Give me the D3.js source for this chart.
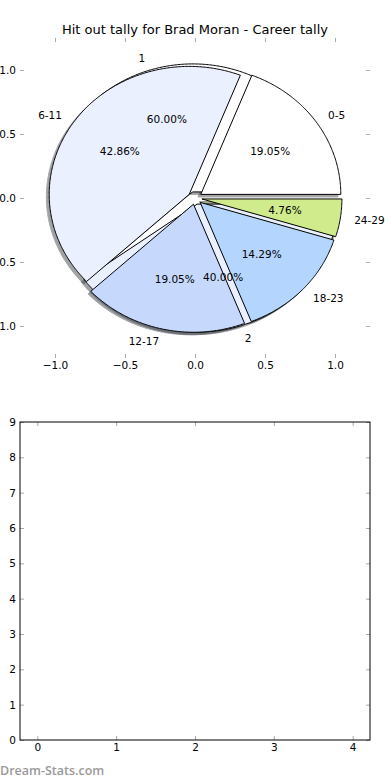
<!DOCTYPE html>
<html>
<head>
<meta charset="utf-8">
<script src="https://cdn.jsdelivr.net/npm/d3@7"></script>
<style>
  body { margin: 0; background: #fff; }
  text { font-family: "DejaVu Sans", sans-serif; fill: #000; }
</style>
</head>
<body>
<svg width="390" height="780"></svg>
<script>
// hit out tally data
var groups = ["0-5", "6-11", "12-17", "18-23", "24-29"],
    groupCounts = [4, 9, 4, 3, 1],
    groupColors = ["#ffffff", "#eaf0fd", "#c6d9fd", "#b4d6fe", "#cfeb8c"];

var rounds = ["1", "2"],
    roundCounts = [3, 2],
    roundColors = ["#ffffff", "#eaf0fd"];

var pieTicks = [-1.0, -0.5, 0.0, 0.5, 1.0],
    emptyXTicks = [0, 1, 2, 3, 4],
    emptyYTicks = [0, 1, 2, 3, 4, 5, 6, 7, 8, 9];

var svg = d3.select("svg");

var explode = 0.05, shadowOff = -0.02;

//scales for the pie axes
var x = d3.scaleLinear().domain([-1.25, 1.25]).range([20, 370]);
var y = d3.scaleLinear().domain([-1.25, 1.25]).range([358, 38]);

var pie = d3.pie().sort(null).startAngle(0).endAngle(2 * Math.PI);

var line = d3.line()
    .x(function(d) { return x(d[0]); })
    .y(function(d) { return y(d[1]); });

function wedge(cx, cy, a0, a1) {
    var pts = [[cx, cy]];
    var n = Math.max(2, Math.ceil((a1 - a0) / 0.01));
    for (var i = 0; i <= n; i++) {
        var a = a0 + (a1 - a0) * i / n;
        pts.push([cx + Math.cos(a), cy + Math.sin(a)]);
    }
    return line(pts) + "Z";
}

function layout(labels, counts, colors) {
    var total = d3.sum(counts);
    return pie(counts).map(function(d, i) {
        var mid = (d.startAngle + d.endAngle) / 2;
        return {
            label: labels[i],
            pct: (100 * counts[i] / total).toFixed(2) + "%",
            color: colors[i],
            a0: d.startAngle, a1: d.endAngle, mid: mid,
            cx: explode * Math.cos(mid), cy: explode * Math.sin(mid)
        };
    });
}

var inner = layout(rounds, roundCounts, roundColors),
    outer = layout(groups, groupCounts, groupColors);
var all = inner.concat(outer);

// shadows first
svg.append("g").selectAll("path")
    .data(all).enter().append("path")
    .attr("d", function(d) { return wedge(d.cx + shadowOff, d.cy + shadowOff, d.a0, d.a1); })
    .attr("fill", function(d) { var c = d3.rgb(d.color); return d3.rgb(c.r * 0.3, c.g * 0.3, c.b * 0.3); })
    .attr("stroke", function(d) { var c = d3.rgb(d.color); return d3.rgb(c.r * 0.3, c.g * 0.3, c.b * 0.3); })
    .attr("opacity", 0.5);

svg.append("g").selectAll("path")
    .data(all).enter().append("path")
    .attr("d", function(d) { return wedge(d.cx, d.cy, d.a0, d.a1); })
    .attr("fill", function(d) { return d.color; })
    .attr("stroke", "#000")
    .attr("stroke-width", 1)
    .attr("stroke-linejoin", "round");

var txt = svg.append("g").style("font-size", "10.5px");
txt.selectAll(".lab")
    .data(all).enter().append("text")
    .attr("x", function(d) { return x(d.cx + 1.1 * Math.cos(d.mid)); })
    .attr("y", function(d) { return y(d.cy + 1.1 * Math.sin(d.mid)); })
    .attr("dy", "0.35em")
    .attr("text-anchor", function(d) { return Math.cos(d.mid) > 0 ? "start" : "end"; })
    .text(function(d) { return d.label; });
txt.selectAll(".pct")
    .data(all).enter().append("text")
    .attr("x", function(d) { return x(d.cx + 0.6 * Math.cos(d.mid)); })
    .attr("y", function(d) { return y(d.cy + 0.6 * Math.sin(d.mid)); })
    .attr("dy", "0.35em")
    .attr("text-anchor", "middle")
    .text(function(d) { return d.pct; });

svg.append("text")
    .attr("x", 195).attr("y", 34)
    .attr("text-anchor", "middle")
    .style("font-size", "13px")
    .text("Hit out tally for Brad Moran - Career tally");

var fmt = d3.format(".1f");

function addAxes(sx, sy, xt, yt, f, frame) {
    var x0 = sx.range()[0], x1 = sx.range()[1], y0 = sy.range()[0], y1 = sy.range()[1];
    var ax = [
        [d3.axisBottom(sx).tickValues(xt).tickFormat(f), 0, y0],
        [d3.axisTop(sx).tickValues(xt).tickFormat(""), 0, y1],
        [d3.axisLeft(sy).tickValues(yt).tickFormat(f), x0, 0],
        [d3.axisRight(sy).tickValues(yt).tickFormat(""), x1, 0]
    ];
    ax.forEach(function(a) {
        var g = svg.append("g")
            .attr("transform", "translate(" + a[1] + "," + a[2] + ")")
            .call(a[0].tickSizeInner(-4).tickSizeOuter(0).tickPadding(4));
        g.select(".domain").remove();
        g.selectAll("line").attr("stroke", "#aaa");
        g.selectAll("text").attr("fill", "#000")
            .style("font-family", "DejaVu Sans, sans-serif").style("font-size", "10.5px");
    });
    if (frame) {
        svg.append("rect")
            .attr("x", x0).attr("y", y1)
            .attr("width", x1 - x0).attr("height", y0 - y1)
            .attr("fill", "none").attr("stroke", "#000");
    }
}

addAxes(x, y, pieTicks, pieTicks, fmt, false);

// second (empty) subplot
var x2 = d3.scaleLinear().domain([-0.22, 4.22]).range([20, 370]);
var y2 = d3.scaleLinear().domain([0, 9]).range([740, 422]);
addAxes(x2, y2, emptyXTicks, emptyYTicks, d3.format("d"), true);

svg.append("text")
    .attr("x", 0).attr("y", 775)
    .style("font-family", "Open Sans, sans-serif")
    .style("font-weight", "600")
    .style("font-size", "12.5px")
    .style("fill", "#999")
    .text("Dream-Stats.com");
</script>
</body>
</html>
